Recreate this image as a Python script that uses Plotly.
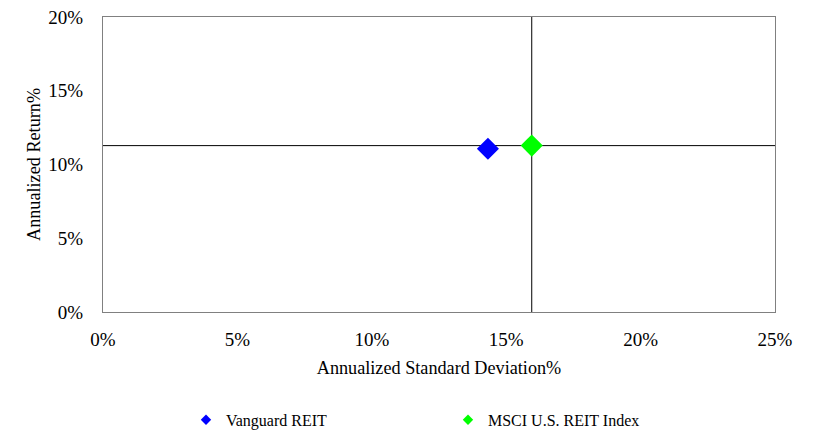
import plotly.graph_objects as go

series_names = ["Vanguard REIT", "MSCI U.S. REIT Index"]
std_dev = [14.32, 15.95]
returns = [11.07, 11.28]
colors = ["#0000FF", "#00FF00"]
benchmark_std = 15.95
benchmark_ret = 11.28
x_ticks = [0, 5, 10, 15, 20, 25]
y_ticks = [0, 5, 10, 15, 20]

font_family = "Liberation Serif, Times New Roman, serif"

fig = go.Figure()
for name, xv, yv, c in zip(series_names, std_dev, returns, colors):
    fig.add_trace(go.Scatter(
        x=[xv], y=[yv], mode="markers", name=name, showlegend=False,
        marker=dict(symbol="diamond", size=17, color=c, line=dict(width=0)),
    ))
# legend entries with smaller symbols
for name, c in zip(series_names, colors):
    fig.add_trace(go.Scatter(
        x=[None], y=[None], mode="markers", name=name, showlegend=True,
        marker=dict(symbol="diamond", size=8, color=c, line=dict(width=0)),
    ))

fig.add_shape(type="line", xref="x", yref="y", x0=benchmark_std, x1=benchmark_std,
              y0=0, y1=20, line=dict(color="black", width=1), layer="below")
fig.add_shape(type="line", xref="x", yref="y", x0=0, x1=25,
              y0=benchmark_ret, y1=benchmark_ret, line=dict(color="black", width=1), layer="below")

fig.update_layout(
    width=806, height=425,
    margin=dict(l=95, r=39, t=9, b=121, autoexpand=False),
    paper_bgcolor="white", plot_bgcolor="white",
    font=dict(family=font_family, color="black"),
    showlegend=True,
    legend=dict(orientation="h", x=0.1235, xanchor="left", y=0.031, yanchor="middle",
                yref="container",
                entrywidth=217, entrywidthmode="pixels",
                font=dict(size=16, family=font_family), itemsizing="trace",
                tracegroupgap=0),
    xaxis=dict(range=[0, 25], tickvals=x_ticks, ticktext=[f"{v}%" for v in x_ticks],
               showgrid=False, zeroline=False, showline=True, linecolor="#808080",
               linewidth=1, mirror=True, ticks="", ticklabelstandoff=10, automargin=False,
               ticklabeloverflow="allow", tickfont=dict(size=19),
               title=dict(text="Annualized Standard Deviation%", font=dict(size=18.2), standoff=12)),
    yaxis=dict(range=[0, 20], tickvals=y_ticks, ticktext=[f"{v}%" for v in y_ticks],
               showgrid=False, zeroline=False, showline=True, linecolor="#808080",
               linewidth=1, mirror=True, ticks="", ticklabelstandoff=15, automargin=False,
               ticklabeloverflow="allow", tickfont=dict(size=19),
               title=dict(text="Annualized Return%", font=dict(size=18.2), standoff=3)),
)

fig.write_html("out.html")
